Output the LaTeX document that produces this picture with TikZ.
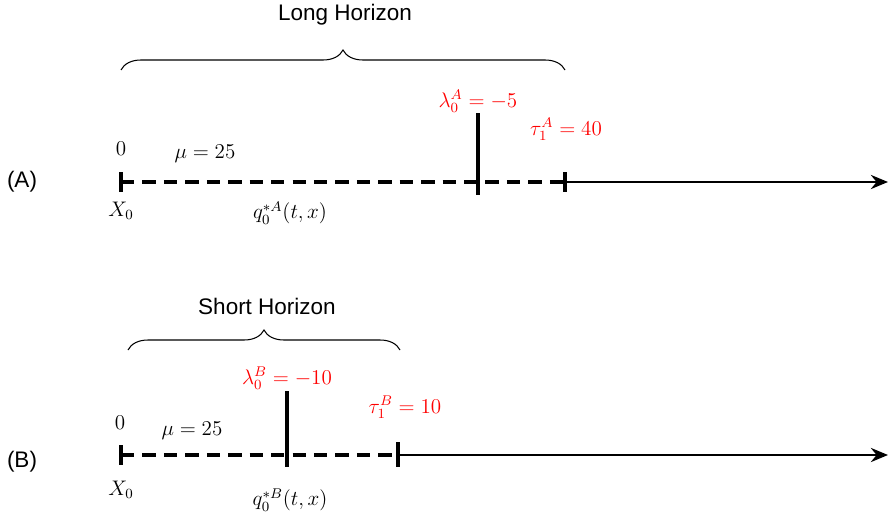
\documentclass[tikz,border=0pt]{standalone}
\usepackage{amsmath,amssymb}
\usepackage{fontspec}
\setsansfont{Liberation Sans}
\usetikzlibrary{arrows.meta,positioning,calc,decorations.pathreplacing}

\tikzset{
  axisdash/.style={line width=2.7pt,dash pattern=on 7.6pt off 4.6pt},
  axissolid/.style={line width=1.7pt,-{Stealth[length=3.4mm,width=2.8mm]}},
  tick/.style={line width=2pt},
  hbrace/.style={decorate,decoration={brace,amplitude=0.4cm},line width=0.6pt},
  lbl/.style={font=\fontsize{11.5}{14}\selectfont},
  redlbl/.style={font=\fontsize{11.5}{14}\selectfont,text=red},
  title/.style={font=\sffamily\fontsize{12.8}{15}\selectfont}
}

\begin{document}
\begin{tikzpicture}[x=1cm,y=1cm]
  \useasboundingbox (0,0) rectangle (17.78,10.38);
  % (A) 長い期間
  \begin{scope}[yshift=6.74cm]
    \coordinate (a0) at (2.42,0);
    \coordinate (alam) at (9.56,0);
    \coordinate (atau) at (11.30,0);
    \coordinate (aend) at (17.76,0);
    \draw[axisdash] (a0) -- (atau);
    \draw[axissolid] (atau) -- (aend);
    \draw[tick] ($(a0)+(0,0.2)$) -- ($(a0)+(0,-0.2)$);
    \draw[tick] ($(atau)+(0,0.2)$) -- ($(atau)+(0,-0.2)$);
    \draw[tick] ($(alam)+(0,1.38)$) -- ($(alam)+(0,-0.26)$);
    \node[title] (labA) at (0.44,0) {(A)};
    \node[lbl] (zeroA) at (2.42,0.66) {$0$};
    \node[lbl] (muA) at (4.10,0.56) {$\mu = 25$};
    \node[lbl] (xA) at (2.42,-0.58) {$X_0$};
    \node[lbl] (qA) at (5.80,-0.62) {$q_0^{*A}(t,x)$};
    \node[redlbl] (lamA) at (9.56,1.62) {$\lambda_0^A = -5$};
    \node[redlbl] (tauA) at (11.32,1.06) {$\tau_1^A = 40$};
    \draw[hbrace] (2.42,2.24) -- (11.30,2.24);
    \node[title] (longH) at (6.90,3.34) {Long Horizon};
  \end{scope}
  % (B) 短い期間
  \begin{scope}[yshift=1.28cm]
    \coordinate (b0) at (2.42,0);
    \coordinate (blam) at (5.74,0);
    \coordinate (btau) at (7.96,0);
    \coordinate (bend) at (17.76,0);
    \draw[axisdash] (b0) -- (btau);
    \draw[axissolid] (btau) -- (bend);
    \draw[tick] ($(b0)+(0,0.2)$) -- ($(b0)+(0,-0.2)$);
    \draw[tick] ($(btau)+(0,0.26)$) -- ($(btau)+(0,-0.24)$);
    \draw[tick] ($(blam)+(0,1.28)$) -- ($(blam)+(0,-0.24)$);
    \node[title] (labB) at (0.44,-0.14) {(B)};
    \node[lbl] (zeroB) at (2.40,0.64) {$0$};
    \node[lbl] (muB) at (3.84,0.48) {$\mu = 25$};
    \node[lbl] (xB) at (2.42,-0.70) {$X_0$};
    \node[lbl] (qB) at (5.80,-0.90) {$q_0^{*B}(t,x)$};
    \node[redlbl] (lamB) at (5.74,1.54) {$\lambda_0^B = -10$};
    \node[redlbl] (tauB) at (8.10,0.96) {$\tau_1^B = 10$};
    \draw[hbrace] (2.56,2.10) -- (8.00,2.10);
    \node[title] (shortH) at (5.34,2.98) {Short Horizon};
  \end{scope}
\end{tikzpicture}
\end{document}
